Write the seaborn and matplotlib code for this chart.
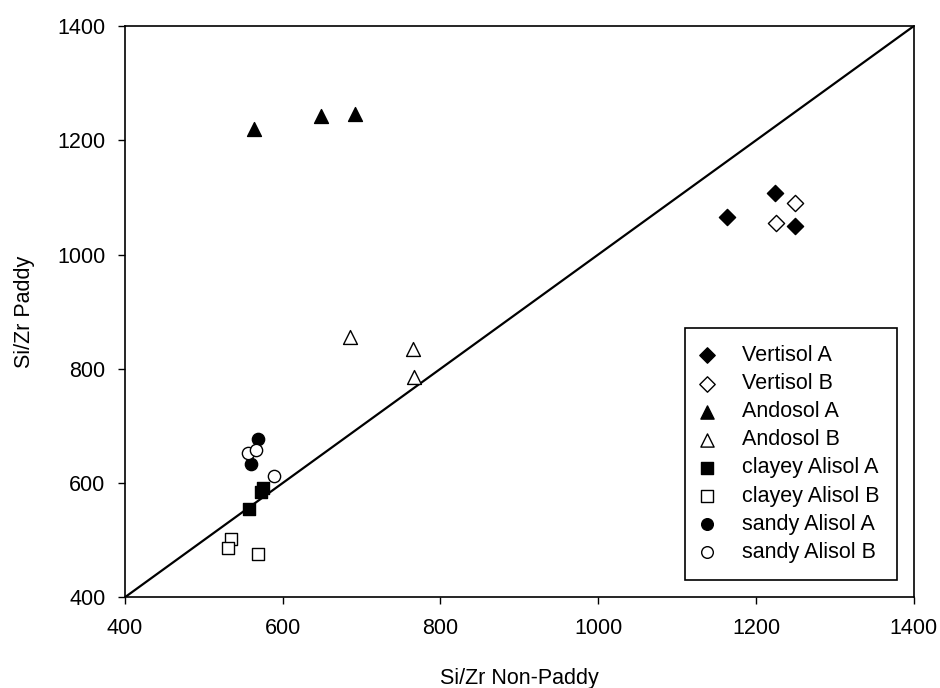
import matplotlib
matplotlib.use("Agg")
import matplotlib.pyplot as plt
import seaborn as sns
import pandas as pd

sns.set_theme(style="ticks", rc={"text.color": "black", "axes.labelcolor": "black",
                                 "xtick.color": "black", "ytick.color": "black",
                                 "axes.edgecolor": "black"})
plt.rcParams['font.family'] = ['Liberation Sans', 'DejaVu Sans']

series_names = ["Vertisol A", "Vertisol B", "Andosol A", "Andosol B",
                "clayey Alisol A", "clayey Alisol B", "sandy Alisol A", "sandy Alisol B"]
vertisol_a_x = [1163, 1224, 1250]
vertisol_a_y = [1065, 1108, 1050]
vertisol_b_x = [1250, 1225]
vertisol_b_y = [1090, 1056]
andosol_a_x = [563, 649, 691]
andosol_a_y = [1220, 1243, 1246]
andosol_b_x = [685, 765, 767]
andosol_b_y = [856, 835, 785]
clayey_a_x = [557, 572, 575]
clayey_a_y = [555, 585, 592]
clayey_b_x = [535, 531, 569]
clayey_b_y = [502, 487, 476]
sandy_a_x = [568, 560]
sandy_a_y = [677, 633]
sandy_b_x = [556, 566, 589]
sandy_b_y = [653, 657, 612]
ticks = [400, 600, 800, 1000, 1200, 1400]

xs = [vertisol_a_x, vertisol_b_x, andosol_a_x, andosol_b_x, clayey_a_x, clayey_b_x, sandy_a_x, sandy_b_x]
ys = [vertisol_a_y, vertisol_b_y, andosol_a_y, andosol_b_y, clayey_a_y, clayey_b_y, sandy_a_y, sandy_b_y]

rows = []
for name, xv, yv in zip(series_names, xs, ys):
    for a, b in zip(xv, yv):
        rows.append({"series": name, "x": a, "y": b})
df = pd.DataFrame(rows)

markers = {"Vertisol A": "D", "Vertisol B": "D", "Andosol A": "^", "Andosol B": "^",
           "clayey Alisol A": "s", "clayey Alisol B": "s", "sandy Alisol A": "o", "sandy Alisol B": "o"}
sizes = {"D": 68, "^": 100, "s": 80, "o": 78}
filled = {n: n.endswith("A") for n in series_names}

fig = plt.figure(figsize=(9.4, 6.88), dpi=100)
ax = fig.add_axes([0.133, 0.132, 0.839, 0.830])

ax.plot([400, 1400], [400, 1400], color="black", lw=1.6, zorder=1)

for name in series_names:
    sub = df[df["series"] == name]
    m = markers[name]
    sns.scatterplot(data=sub, x="x", y="y", ax=ax, marker=m, s=sizes[m],
                    color="black" if filled[name] else "white",
                    edgecolor="black", linewidth=1.0, label=name, zorder=3)

ax.set_xlim(400, 1400)
ax.set_ylim(400, 1400)
ax.set_xticks(ticks)
ax.set_yticks(ticks)
ax.tick_params(labelsize=15.5, length=5, width=1, colors="black", direction="out")
ax.tick_params(axis="x", pad=10)
ax.tick_params(axis="y", pad=9)
ax.set_xlabel("Si/Zr Non-Paddy", fontsize=15.5, labelpad=21)
ax.set_ylabel("Si/Zr Paddy", fontsize=15.5, labelpad=16)
for sp in ax.spines.values():
    sp.set_color("black")
    sp.set_linewidth(1.2)

leg = ax.legend(loc="lower right", bbox_to_anchor=(897 / 940, 1 - 580 / 688),
                bbox_transform=fig.transFigure, frameon=True, fancybox=False,
                fontsize=15.5, edgecolor="black", framealpha=1, borderpad=0.8,
                labelspacing=0.33, handlelength=0.4, handletextpad=1.45,
                borderaxespad=0, markerscale=0.95)
leg.get_frame().set_linewidth(1.2)

fig.savefig("out.png", dpi=100)
